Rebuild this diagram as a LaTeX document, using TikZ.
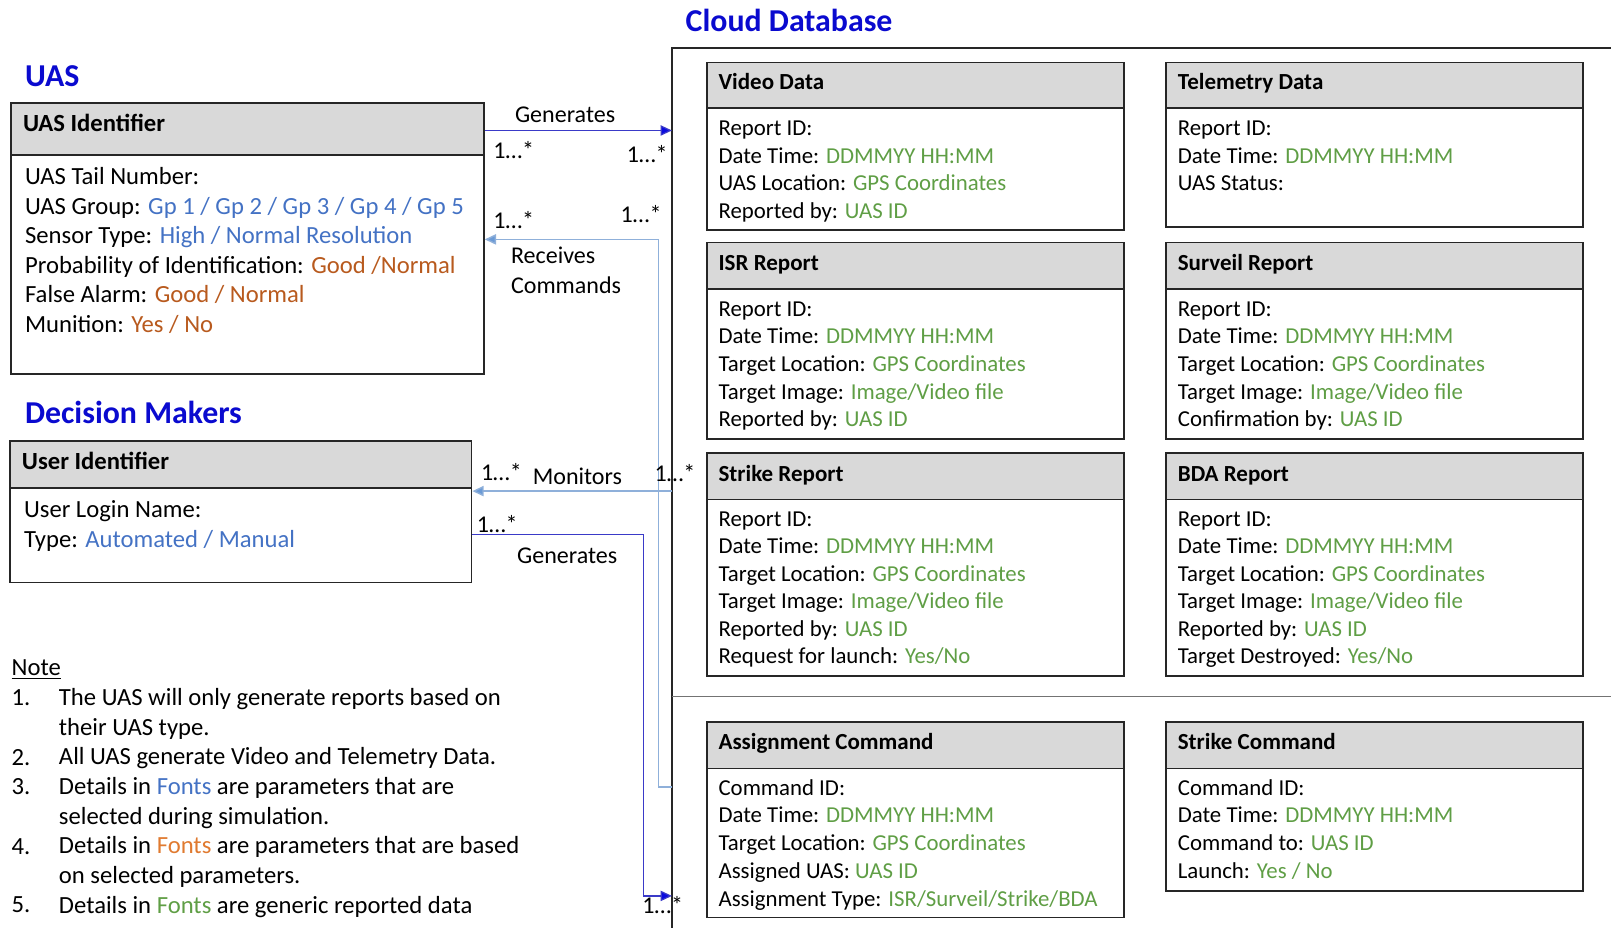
\documentclass[tikz,border=0pt]{standalone}
\usepackage{fontspec}
\setmainfont{Carlito}
\usetikzlibrary{arrows.meta,fit}
\definecolor{cblue}{HTML}{4472C4}
\definecolor{corange}{HTML}{B85A1E}
\definecolor{corange2}{HTML}{E07A30}
\definecolor{cgreen}{HTML}{5F9E45}
\definecolor{ctitle}{HTML}{0A0ACF}
\definecolor{hgray}{HTML}{D9D9D9}
\definecolor{genc}{HTML}{3A3AC8}
\definecolor{genh}{HTML}{0A0AE0}
\definecolor{litec}{HTML}{8FB0DA}
\definecolor{liteh}{HTML}{6A9AD6}
\newcommand\txB[1]{\textcolor{cblue}{#1}}
\newcommand\txO[1]{\textcolor{corange}{#1}}
\newcommand\txG[1]{\textcolor{cgreen}{#1}}
% style, baseline offset, name, x, first y, dy, list
\newcommand\blines[7]{\foreach \t [count=\i] in {#7} {\node[#1] (#3-l\i) at (#4,{#5+#2+(\i-1)*#6}) {\t};}}
% name, x1, y1, x2, yh, y2, title y, title, title style
\newcommand\clsbox[9]{%
  \node[boxst, fit={(#2,#3)(#4,#6)}] (#1) {};
  \node[hdrst, fit={(#2,#3)(#4,#5)}] (#1-h) {};
  \node[#9] (#1-t) at ({#2+11},{#7+7.3}) {#8};
}
\begin{document}
\begin{tikzpicture}[x=0.5pt,y=-0.5pt,
  bline/.style={anchor=base west, inner sep=0, font=\fontsize{12}{14}\selectfont},
  cline/.style={anchor=base west, inner sep=0, font=\fontsize{11.1}{13}\selectfont},
  htextU/.style={anchor=base west, inner sep=0, font=\fontsize{12}{14}\selectfont\bfseries},
  htextC/.style={anchor=base west, inner sep=0, font=\fontsize{11.2}{13}\selectfont\bfseries},
  ttl/.style={anchor=base west, inner sep=0, font=\fontsize{15.5}{17}\selectfont\bfseries, text=ctitle},
  mult/.style={inner sep=0, font=\fontsize{11.7}{14}\selectfont},
  boxst/.style={draw=black!85, line width=0.8pt, inner sep=0},
  hdrst/.style={draw=black!85, fill=hgray, line width=0.8pt, inner sep=0},
  frame/.style={draw=black!85, line width=0.9pt},
  sepline/.style={draw=black!55, line width=0.6pt},
  genline/.style={draw=genc, line width=0.6pt, -{Triangle[length=5.5pt,width=5pt,fill=genh]}},
  liteline/.style={draw=litec, line width=0.7pt, -{Triangle[length=5.5pt,width=5pt,fill=liteh]}}
]
\useasboundingbox (0,0) rectangle (1568,903);

% ---------- UAS ----------
\node[ttl] (uasT) at (24,84) {UAS};
\clsbox{uas}{11}{100}{471}{151}{364}{121}{UAS Identifier}{htextU}
\blines{bline}{7.6}{uas}{24}{172}{28.8}{{UAS Tail Number:},
 {UAS Group: \txB{Gp 1 / Gp 2 / Gp 3 / Gp 4 / Gp 5}},
 {Sensor Type: \txB{High / Normal Resolution}},
 {Probability of Identification: \txO{Good /Normal}},
 {False Alarm: \txO{Good / Normal}},
 {Munition: \txO{Yes / No}}}

% ---------- Decision makers ----------
\node[ttl] (dmT) at (24,412) {Decision Makers};
\clsbox{usr}{10}{429}{459}{475}{567}{450}{User Identifier}{htextU}
\blines{bline}{7.6}{usr}{23}{496}{29}{{User Login Name:},{Type: \txB{Automated / Manual}}}

% ---------- Note ----------
\node[bline] (noteT) at (11,657.6) {\underline{Note}};
\foreach \n/\yy in {1/679,2/737,3/766,4/824,5/881}
  \node[bline] (num\n) at (11,{\yy+7.6}) {\n.};
\blines{bline}{7.6}{note}{57}{679}{28.9}{{The UAS will only generate reports based on},
 {their UAS type.},
 {All UAS generate Video and Telemetry Data.},
 {Details in \txB{Fonts} are parameters that are},
 {selected during simulation.},
 {Details in \textcolor{corange2}{Fonts} are parameters that are based},
 {on selected parameters.},
 {Details in \txG{Fonts} are generic reported data}}

% ---------- Cloud database ----------
\node[ttl] (cdbT) at (667,31) {Cloud Database};
\coordinate (fTL) at (654,47);
\coordinate (fBL) at (654,903);
\coordinate (fTR) at (1568,47);
\coordinate (sL) at (654,678);
\coordinate (sR) at (1568,678);
\draw[frame] (fBL) -- (fTL) -- (fTR);
\draw[sepline] (sL) -- (sR);

\clsbox{vid}{688}{61}{1094}{105}{224}{80}{Video Data}{htextC}
\blines{cline}{7}{vid}{699}{125}{26.8}{{Report ID:},{Date Time: \txG{DDMMYY HH:MM}},{UAS Location: \txG{GPS Coordinates}},{Reported by: \txG{UAS ID}}}

\clsbox{tel}{1135}{61}{1541}{105}{221}{80}{Telemetry Data}{htextC}
\blines{cline}{7}{tel}{1146}{125}{26.8}{{Report ID:},{Date Time: \txG{DDMMYY HH:MM}},{UAS Status:}}

\clsbox{isr}{688}{236}{1094}{281}{427}{256}{ISR Report}{htextC}
\blines{cline}{7}{isr}{699}{301}{26.8}{{Report ID:},{Date Time: \txG{DDMMYY HH:MM}},{Target Location: \txG{GPS Coordinates}},{Target Image: \txG{Image/Video file}},{Reported by: \txG{UAS ID}}}

\clsbox{sur}{1135}{236}{1541}{281}{427}{256}{Surveil Report}{htextC}
\blines{cline}{7}{sur}{1146}{301}{26.8}{{Report ID:},{Date Time: \txG{DDMMYY HH:MM}},{Target Location: \txG{GPS Coordinates}},{Target Image: \txG{Image/Video file}},{Confirmation by: \txG{UAS ID}}}

\clsbox{str}{688}{441}{1094}{486}{658}{461}{Strike Report}{htextC}
\blines{cline}{7}{str}{699}{505}{26.8}{{Report ID:},{Date Time: \txG{DDMMYY HH:MM}},{Target Location: \txG{GPS Coordinates}},{Target Image: \txG{Image/Video file}},{Reported by: \txG{UAS ID}},{Request for launch: \txG{Yes/No}}}

\clsbox{bda}{1135}{441}{1541}{486}{658}{461}{BDA Report}{htextC}
\blines{cline}{7}{bda}{1146}{505}{26.8}{{Report ID:},{Date Time: \txG{DDMMYY HH:MM}},{Target Location: \txG{GPS Coordinates}},{Target Image: \txG{Image/Video file}},{Reported by: \txG{UAS ID}},{Target Destroyed: \txG{Yes/No}}}

\clsbox{asg}{688}{703}{1094}{748}{893}{722}{Assignment Command}{htextC}
\blines{cline}{7}{asg}{699}{767}{27}{{Command ID:},{Date Time: \txG{DDMMYY HH:MM}},{Target Location: \txG{GPS Coordinates}},{Assigned UAS: \txG{UAS ID}},{Assignment Type: \txG{ISR/Surveil/Strike/BDA}}}

\clsbox{scm}{1135}{703}{1541}{748}{867}{722}{Strike Command}{htextC}
\blines{cline}{7}{scm}{1146}{767}{27}{{Command ID:},{Date Time: \txG{DDMMYY HH:MM}},{Command to: \txG{UAS ID}},{Launch: \txG{Yes / No}}}

% ---------- connectors ----------
\coordinate (g1e) at (654,127);
\draw[genline] (uas.east |- g1e) -- (g1e);
\node[mult] (g1l) at (550,112) {Generates};
\node[mult] (g1m1) at (500,146) {1…*};
\node[mult] (g1m2) at (630,150) {1…*};

\coordinate (rc1) at (654,766);
\coordinate (rc2) at (641,233);
\draw[liteline] (rc1) -| (rc2) -- (uas.east |- rc2);
\node[mult] (rcm1) at (500,214) {1…*};
\node[mult] (rcm2) at (624,208) {1…*};
\node[mult, anchor=base west] (rcl1) at (497,256.5) {Receives};
\node[mult, anchor=base west] (rcl2) at (497,285.5) {Commands};

\coordinate (mo1) at (654,478);
\draw[liteline] (mo1) -- (usr.east |- mo1);
\node[mult] (mom1) at (488,459) {1…*};
\node[mult] (mol) at (562,464) {Monitors};
\node[mult] (mom2) at (657,460) {1…*};

\coordinate (g2c) at (626,520);
\coordinate (g2e) at (654,872);
\draw[genline] (usr.east |- g2c) -- (g2c) |- (g2e);
\node[mult] (g2m1) at (484,510) {1…*};
\node[mult] (g2l) at (552,541) {Generates};
\node[mult] (g2m2) at (645,881) {1…*};
\end{tikzpicture}
\end{document}
